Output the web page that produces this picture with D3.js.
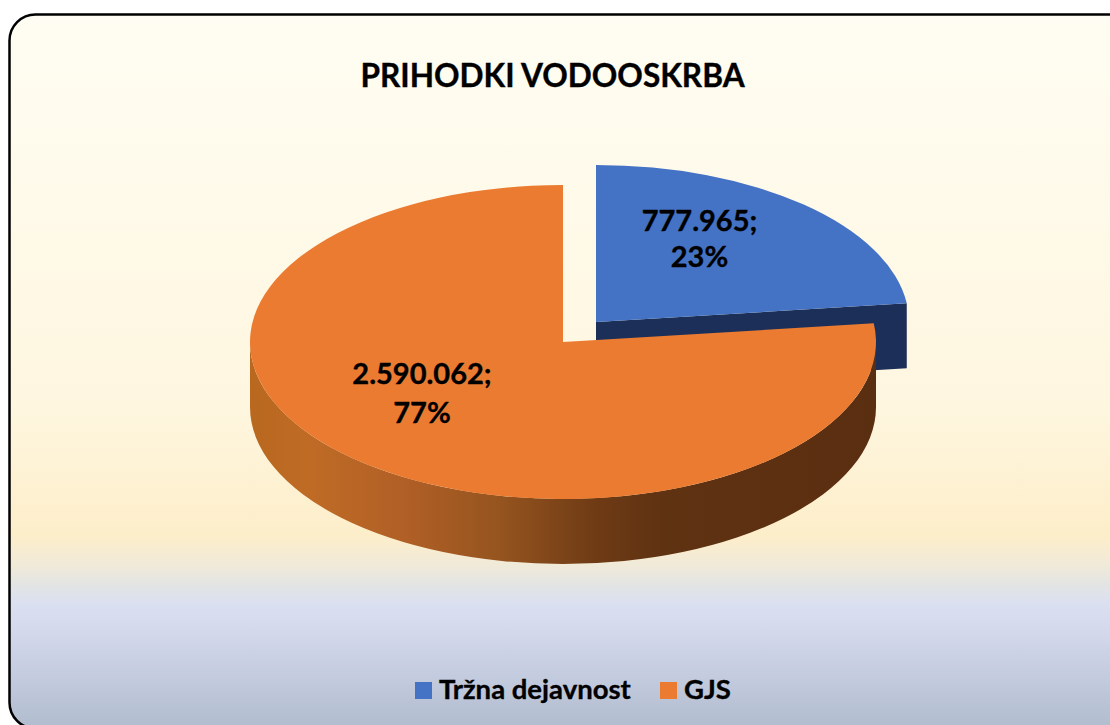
<!DOCTYPE html>
<html>
<head>
<meta charset="utf-8">
<script src="https://cdnjs.cloudflare.com/ajax/libs/d3/7.8.5/d3.min.js"></script>
<style>
    html, body { margin: 0; padding: 0; background: #fff; overflow: hidden; }
    text { font-family: Lato, "Open Sans", sans-serif; font-weight: 700; fill: #000; stroke: #000; stroke-width: 0.35; }
</style>
</head>
<body>
<svg id="chart" width="1110" height="725"></svg>
<script>
// chart values
const categories = ['Tržna dejavnost', 'GJS'];
const values = [777965, 2590062];
const valueLabels = ['777.965;', '2.590.062;'];
const percentLabels = ['23%', '77%'];
const topColors = ['#4472c4', '#eb7b31'];

const width = 1110;
const height = 725;
const svg = d3.select('#chart');
const defs = svg.append('defs');

// panel background
const bgStops = [
    [0, '#fffdf3'], [0.55, '#fef6df'], [0.73, '#fdeeca'], [0.77, '#f1ead8'],
    [0.80, '#e2e4e4'], [0.825, '#dbe0f1'], [0.87, '#d2d7ea'], [1, '#b1bccf']
];
defs.append('linearGradient')
    .attr('id', 'panelFill')
    .attr('x1', 0).attr('x2', 0).attr('y1', 0).attr('y2', 1)
    .selectAll('stop')
    .data(bgStops)
    .join('stop')
    .attr('offset', d => d[0])
    .attr('stop-color', d => d[1]);

// the shaded rim of the orange slice
const wallStops = [
    [0, '#b9681f'], [0.1, '#bf6b26'], [0.25, '#b05f26'], [0.4, '#95541f'],
    [0.55, '#6f3b15'], [0.66, '#5f3212'], [1, '#5a2e10']
];
defs.append('linearGradient')
    .attr('id', 'wallFill')
    .attr('x1', 0).attr('x2', 1).attr('y1', 0).attr('y2', 0)
    .selectAll('stop')
    .data(wallStops)
    .join('stop')
    .attr('offset', d => d[0])
    .attr('stop-color', d => d[1]);

svg.append('rect')
    .attr('x', 9.5).attr('y', 14.5)
    .attr('width', 1130).attr('height', 714)
    .attr('rx', 26).attr('ry', 26)
    .attr('fill', 'url(#panelFill)')
    .attr('stroke', '#000')
    .attr('stroke-width', 2.5);

svg.append('text')
    .attr('x', 552.5).attr('y', 86.5)
    .attr('text-anchor', 'middle')
    .attr('font-size', 31.6)
    .text('PRIHODKI VODOOSKRBA');

// pie geometry
const rx = 313;
const ry = 157;
const depth = 65;
const centers = [[596, 322], [563, 342]]; // the blue slice is pulled out
const labelPos = [[699.5, 231, 267], [422, 384, 423]];

const arcs = d3.pie().sort(null)(values);
const arcPath = d3.arc().innerRadius(0).outerRadius(rx);
const rimX = (i, a) => centers[i][0] + rx * Math.sin(a);
const rimY = (i, a) => centers[i][1] - ry * Math.cos(a);

// flat face of the blue slice, seen past the gap
const end = arcs[0].endAngle;
svg.append('path')
    .attr('fill', '#1b2f58')
    .attr('d', `M${centers[0]} L${rimX(0, end)},${rimY(0, end)} v${depth} L${centers[0][0]},${centers[0][1] + depth} Z`);

// front rim of the orange slice
const [ox, oy] = centers[1];
svg.append('path')
    .attr('fill', 'url(#wallFill)')
    .attr('d', `M${ox - rx},${oy} A${rx},${ry} 0 0 0 ${ox + rx},${oy} v${depth} A${rx},${ry} 0 0 1 ${ox - rx},${oy + depth} Z`);

// top faces, a circle squashed into the tilted ellipse
svg.append('g')
    .selectAll('path')
    .data(arcs)
    .join('path')
    .attr('transform', (d, i) => `translate(${centers[i]}) scale(1,${ry / rx})`)
    .attr('fill', (d, i) => topColors[i])
    .attr('d', arcPath);

// data labels
const labels = svg.append('g')
    .selectAll('text')
    .data(arcs)
    .join('text')
    .attr('text-anchor', 'middle')
    .attr('font-size', 29);
labels.append('tspan')
    .attr('x', (d, i) => labelPos[i][0]).attr('y', (d, i) => labelPos[i][1])
    .text((d, i) => valueLabels[i]);
labels.append('tspan')
    .attr('x', (d, i) => labelPos[i][0]).attr('y', (d, i) => labelPos[i][2])
    .text((d, i) => percentLabels[i]);

// legend
const legendX = [415, 660];
const legend = svg.append('g')
    .selectAll('g')
    .data(categories)
    .join('g')
    .attr('transform', (d, i) => `translate(${legendX[i]},682)`);
legend.append('rect')
    .attr('width', 17).attr('height', 17)
    .attr('fill', (d, i) => topColors[i]);
legend.append('text')
    .attr('x', 24).attr('y', 16.5)
    .attr('font-size', 27.5)
    .text(d => d);
</script>
</body>
</html>
